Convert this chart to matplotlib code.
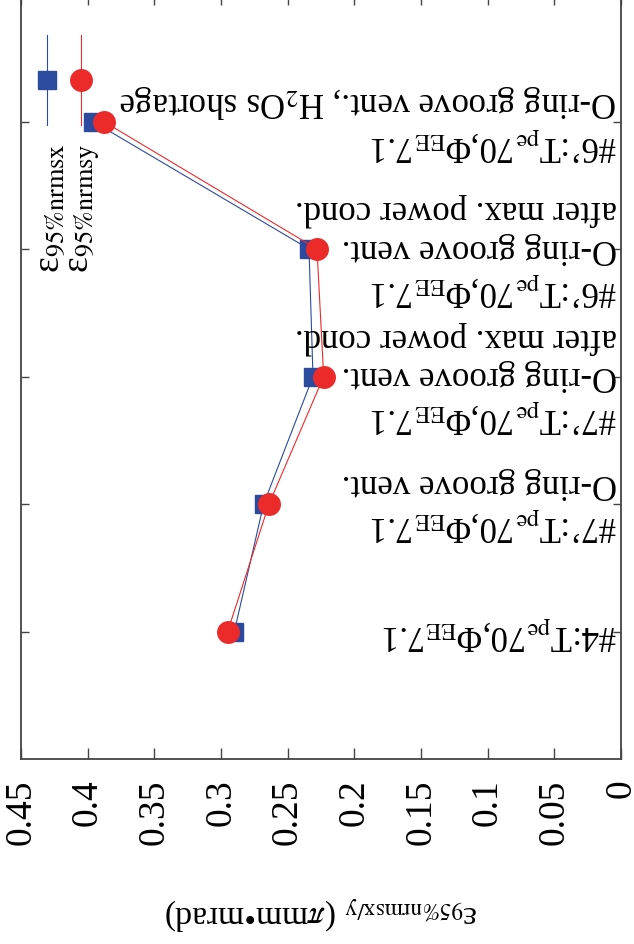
import numpy as np
import matplotlib.pyplot as plt

plt.rcParams['font.family'] = ['Liberation Serif', 'DejaVu Serif']
plt.rcParams['mathtext.fontset'] = 'stix'

# operating conditions, bottom to top
cond_labels = [
    "#4:T$_{\\mathrm{pe}}$70,Φ$_{\\mathrm{EE}}$7.1",
    "#7’:T$_{\\mathrm{pe}}$70,Φ$_{\\mathrm{EE}}$7.1\nO-ring groove vent.",
    "#7’:T$_{\\mathrm{pe}}$70,Φ$_{\\mathrm{EE}}$7.1\nO-ring groove vent.\nafter max. power cond.",
    "#6’:T$_{\\mathrm{pe}}$70,Φ$_{\\mathrm{EE}}$7.1\nO-ring groove vent.\nafter max. power cond.",
    "#6’:T$_{\\mathrm{pe}}$70,Φ$_{\\mathrm{EE}}$7.1\nO-ring groove vent., H$_2$Os shortage",
]
eps_x = [0.290, 0.268, 0.231, 0.234, 0.396]
eps_y = [0.295, 0.264, 0.223, 0.228, 0.388]

val_ticks = [0, 0.05, 0.1, 0.15, 0.2, 0.25, 0.3, 0.35, 0.4, 0.45]
val_ticklabels = ["0", "0.05", "0.1", "0.15", "0.2", "0.25", "0.3", "0.35", "0.4", "0.45"]

blue = '#2c4a9e'
red = '#ec2a2a'
axcol = '#444444'

W, H = 634, 945
fig = plt.figure(figsize=(W / 100, H / 100), dpi=100)
ax = fig.add_axes([21 / W, 185 / H, 600 / W, 765 / H])

pos = np.arange(1, len(cond_labels) + 1)

ax.plot(eps_x, pos, color=blue, lw=0.8, marker='s', ms=13, zorder=3)
ax.plot(eps_y, pos, color=red, lw=0.8, marker='o', ms=15.5, zorder=4)

ax.set_xlim(0.45, 0)
ax.set_ylim(0, 6)

ax.set_xticks(val_ticks)
ax.set_xticklabels(val_ticklabels, rotation=90, fontsize=27)
ax.tick_params(axis='x', direction='in', length=8, width=1, color=axcol,
               top=True, bottom=True, pad=14)
ax.set_yticks(pos)
ax.set_yticklabels([])
ax.tick_params(axis='y', direction='in', length=6, width=1, color=axcol,
               left=True, right=True)
for sp in ax.spines.values():
    sp.set_color(axcol)
    sp.set_linewidth(1.3)

# condition labels written inside the plot, next to the right axis
tr = ax.get_yaxis_transform()
for p, lab in zip(pos, cond_labels):
    ax.text(0.993, p, lab, transform=tr, rotation=180, ha='right', va='center',
            multialignment='left', fontsize=25)

ax.set_xlabel("ε$_{\\mathrm{95\\%nrmsx/y}}$ ($\\pi$mm•mrad)", fontsize=24,
              rotation=180, va='center')
ax.xaxis.set_label_coords(0.5, -0.2)

# legend: vertical sample lines with the label underneath
leg = [(0.043, 0.050, blue, 's', 13, "ε$_{\\mathrm{95\\%nrmsx}}$"),
       (0.100, 0.106, red, 'o', 15.5, "ε$_{\\mathrm{95\\%nrmsy}}$")]
for lx, tx, c, m, s, lab in leg:
    ax.plot([lx, lx], [0.829, 0.946], color=c, lw=0.8, transform=ax.transAxes)
    ax.plot([lx], [0.887], color=c, marker=m, ms=s, transform=ax.transAxes)
    ax.text(tx, 0.806, lab, transform=ax.transAxes, rotation=90,
            ha='center', va='top', fontsize=27)

fig.savefig('out.png', dpi=100)
